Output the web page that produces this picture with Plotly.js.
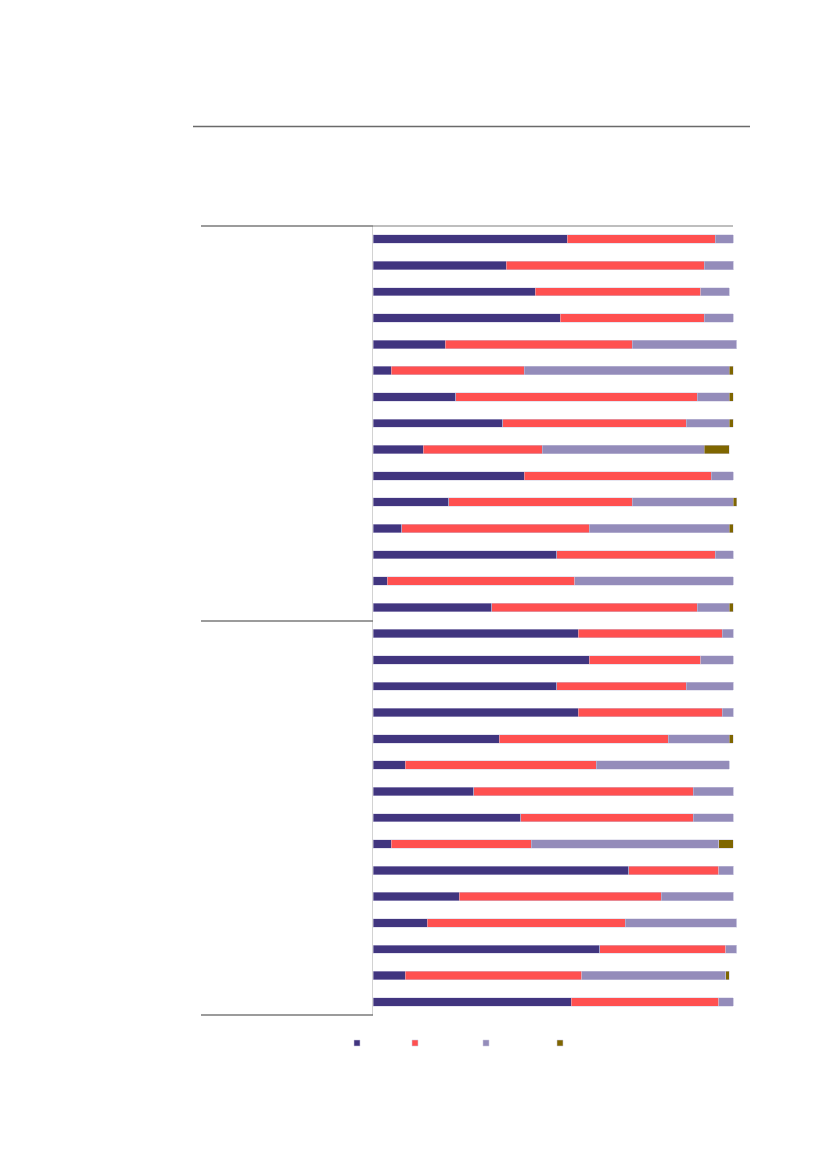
<!DOCTYPE html>
<html>
<head>
<meta charset="utf-8">
<script src="https://cdn.plot.ly/plotly-3.0.1.min.js"></script>
<style>
  html, body { margin: 0; padding: 0; background: #fff; }
  #chart { width: 827px; height: 1169px; }
</style>
</head>
<body>
<div id="chart"></div>
<script>
// Stacked shares per row (%), top row first
const rows = ['1','2','3','4','5','6','7','8','9','10','11','12','13','14','15',
              '16','17','18','19','20','21','22','23','24','25','26','27','28','29','30'];
const partA = [54,37,45,52,20, 5,23,36,14,42,21, 8,51, 4,33, 57,60,51,57,35, 9,28,41, 5,71,24,15,63, 9,55];
const partB = [41,55,46,40,52,37,67,51,33,52,51,52,44,52,57, 40,31,36,40,47,53,61,48,39,25,56,55,35,49,41];
const partC = [ 5, 8, 8, 8,29,57, 9,12,45, 6,28,39, 5,44, 9,  3, 9,13, 3,17,37,11,11,52, 4,20,31, 3,40, 4];
const partD = [ 0, 0, 0, 0, 0, 1, 1, 1, 7, 0, 1, 1, 0, 0, 1,  0, 0, 0, 0, 1, 0, 0, 0, 4, 0, 0, 0, 0, 1, 0];
const colors = ['#41357f', '#ff5050', '#948cba', '#7f6600'];
const series = [partA, partB, partC, partD];

const edge = { color: 'rgba(205,202,225,0.8)', width: 0.6 };

const traces = series.map((vals, i) => ({
    type: 'bar', orientation: 'h',
    y: rows, x: vals,
    marker: { color: colors[i], line: edge },
    showlegend: false, hoverinfo: 'x',
}));

// legend swatches only (the labels are blank in the source)
const legendX = [357, 415, 486, 560];
colors.forEach((c, i) => {
    traces.push({
        type: 'scatter', mode: 'markers', x: [null], y: [null], name: '',
        marker: { symbol: 'square', size: 6, color: c, line: { color: 'rgba(205,202,225,0.9)', width: 0.6 } },
        showlegend: true, legend: i === 0 ? 'legend' : 'legend' + (i + 1),
    });
});

// plot box is 373..741 px wide (range 0..102.2 so 100% lands at 733 and overflow is not clipped)
const px = v => (v - 373) / 368;
const py = v => (1015 - v) / 789;

const layout = {
    width: 827, height: 1169,
    paper_bgcolor: '#fff', plot_bgcolor: '#fff',
    margin: { l: 373, r: 86, t: 226, b: 154 },
    barmode: 'stack', bargap: 0.68,
    font: { family: 'Liberation Sans, Arial, sans-serif', size: 11, color: '#333' },
    xaxis: { range: [0, 102.22], showline: false,
             showgrid: false, zeroline: false, showticklabels: false, ticks: '', fixedrange: true },
    yaxis: { autorange: 'reversed', showline: true, linecolor: '#d2d2d2', linewidth: 1.5,
             showgrid: false, zeroline: false, showticklabels: false, ticks: '' },
    shapes: [
        { type: 'line', xref: 'paper', yref: 'paper', x0: px(193), x1: px(750), y0: py(126.5), y1: py(126.5), line: { color: '#6a6a6a', width: 1.4 } },
        { type: 'line', xref: 'paper', yref: 'paper', x0: px(201), x1: 0, y0: 1, y1: 1, line: { color: '#7a7a7a', width: 1.3 } },
        { type: 'line', xref: 'x', yref: 'paper', x0: 0, x1: 100, y0: 1, y1: 1, line: { color: '#a9a9a9', width: 1.3 } },
        { type: 'line', xref: 'paper', yref: 'paper', x0: px(201), x1: 0, y0: py(621), y1: py(621), line: { color: '#7a7a7a', width: 1.3 } },
        { type: 'line', xref: 'paper', yref: 'paper', x0: px(201), x1: 0, y0: 0, y1: 0, line: { color: '#7a7a7a', width: 1.3 } },
    ],
};
legendX.forEach((x, i) => {
    const key = i === 0 ? 'legend' : 'legend' + (i + 1);
    layout[key] = { x: px(x - 20), y: py(1043), xanchor: 'left', yanchor: 'middle',
                    bgcolor: 'rgba(0,0,0,0)', borderwidth: 0, font: { size: 10 } };
});

Plotly.newPlot('chart', traces, layout, { displayModeBar: false, staticPlot: true });
</script>
</body>
</html>
